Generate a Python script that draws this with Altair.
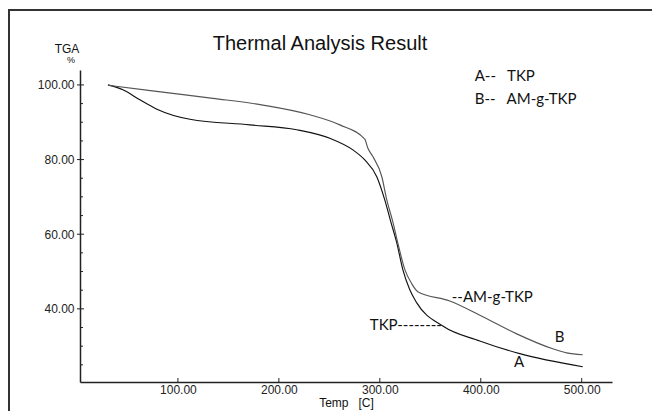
import altair as alt
import pandas as pd

# TGA curves (Temp [C], weight %)
tkp_temp = [30.7, 45.5, 62.4, 79.2, 111.9, 171.3, 217.8, 250.5, 273.3, 285.1, 297.0,
            304.9, 310.9, 316.8, 322.8, 329.7, 336.6, 362.4, 399.0, 438.6, 501.0]
tkp_tga = [100.0, 98.7, 96.0, 93.5, 90.8, 89.3, 88.0, 85.7, 82.6, 79.9, 75.4,
           69.2, 63.3, 57.7, 50.5, 45.1, 41.6, 35.4, 31.4, 28.0, 24.5]

am_temp = [30.7, 99.0, 134.7, 184.2, 230.7, 260.4, 285.1, 288.1, 293.1, 302.0, 306.9,
           312.9, 317.8, 324.8, 331.7, 337.6, 369.3, 402.0, 435.6, 471.3, 485.1, 501.0]
am_tga = [99.9, 97.6, 96.4, 94.6, 92.0, 89.3, 85.5, 83.1, 80.8, 75.4, 69.2,
          63.3, 57.7, 50.5, 46.7, 44.6, 42.1, 37.9, 33.3, 29.3, 28.2, 27.7]

x_ticks = [100, 200, 300, 400, 500]
y_ticks = [40, 60, 80, 100]
y_minor = [25, 30, 35, 45, 50, 55, 65, 70, 75, 85, 90, 95]

# annotation texts
left_text = ["A--\u00a0\u00a0\u00a0TKP", "B--\u00a0\u00a0\u00a0AM-g-TKP", "--AM-g-TKP",
             "TKP--------"]
center_text = ["B", "A"]

W, H = 532, 312
FONT = "Liberation Sans"
NOTE_FONT = "Lato"

xs = alt.Scale(domain=[3, 530], nice=False, zero=False)
ys = alt.Scale(domain=[20.4, 104], nice=False, zero=False)

curves = pd.concat([
    pd.DataFrame({"temp": tkp_temp, "tga": tkp_tga, "s": "TKP"}),
    pd.DataFrame({"temp": am_temp, "tga": am_tga, "s": "AM-g-TKP"}),
])

lines = alt.Chart(curves).mark_line(strokeWidth=1.15, interpolate="monotone").encode(
    x=alt.X("temp:Q", scale=xs,
            axis=alt.Axis(values=x_ticks, format=".2f", ticks=False, grid=False,
                          labelFont=FONT, labelFontSize=12, labelColor="#222",
                          labelPadding=2, domainColor="#222", domainWidth=1.5,
                          title="Temp\u00a0\u00a0\u00a0[C]", titleFont=FONT,
                          titleFontSize=12, titleFontWeight="normal",
                          titleColor="#111", titlePadding=2)),
    y=alt.Y("tga:Q", scale=ys,
            axis=alt.Axis(values=y_ticks, format=".2f", ticks=False, grid=False,
                          labelFont=FONT, labelFontSize=12, labelColor="#222",
                          labelPadding=6, domainColor="#222", domainWidth=1.5,
                          title=None)),
    color=alt.Color("s:N", scale=alt.Scale(domain=["TKP", "AM-g-TKP"],
                                           range=["#111111", "#555555"]), legend=None),
    detail="s:N",
)

# annotation placement (data coords), kept apart from data
left_pos = pd.DataFrame({"t": left_text,
                         "x": [394, 394, 371.3, 290.1],
                         "y": [101.15, 94.9, 41.9, 34.4]})
center_pos = pd.DataFrame({"t": center_text, "x": [478.2, 437.9], "y": [31.2, 24.5]})

notes_left = alt.Chart(left_pos).mark_text(
    font=NOTE_FONT, fontSize=15, align="left", baseline="alphabetic", color="#111"
).encode(x=alt.X("x:Q", scale=xs), y=alt.Y("y:Q", scale=ys), text="t:N")
notes_center = alt.Chart(center_pos).mark_text(
    font=NOTE_FONT, fontSize=15, align="center", baseline="alphabetic", color="#111"
).encode(x=alt.X("x:Q", scale=xs), y=alt.Y("y:Q", scale=ys), text="t:N")

# inward ticks
ymaj = alt.Chart(pd.DataFrame({"v": y_ticks})).mark_rule(color="#222", strokeWidth=1).encode(
    y=alt.Y("v:Q", scale=ys), x=alt.value(-3), x2=alt.value(4))
ymin = alt.Chart(pd.DataFrame({"v": y_minor})).mark_rule(color="#222", strokeWidth=1).encode(
    y=alt.Y("v:Q", scale=ys), x=alt.value(0), x2=alt.value(3))
xmaj = alt.Chart(pd.DataFrame({"v": x_ticks})).mark_rule(color="#222", strokeWidth=1).encode(
    x=alt.X("v:Q", scale=xs), y=alt.value(H - 4), y2=alt.value(H + 1))

one = pd.DataFrame({"a": [0]})
title = alt.Chart(one).mark_text(text="Thermal Analysis Result", font=FONT, fontSize=20,
                                 align="center", baseline="alphabetic", color="#111").encode(
    x=alt.value(240), y=alt.value(-20.5))
tga = alt.Chart(one).mark_text(text="TGA", font=FONT, fontSize=12, align="center",
                               baseline="alphabetic", color="#111").encode(
    x=alt.value(-13), y=alt.value(-17))
pct = alt.Chart(one).mark_text(text="%", font=FONT, fontSize=9, align="center",
                               baseline="alphabetic", color="#111").encode(
    x=alt.value(-9), y=alt.value(-7))

frame_top = alt.Chart(one).mark_rule(color="#333", strokeWidth=2).encode(
    x=alt.value(-72), x2=alt.value(600), y=alt.value(-60))
frame_left = alt.Chart(one).mark_rule(color="#333", strokeWidth=2).encode(
    x=alt.value(-71), y=alt.value(-60), y2=alt.value(360))

chart = alt.layer(
    frame_top, frame_left, ymin, ymaj, xmaj, lines, notes_left, notes_center,
    title, tga, pct
).properties(
    width=W, height=H,
    autosize=alt.AutoSizeParams(type="none"),
    padding={"left": 72, "top": 62, "right": 40, "bottom": 29},
).configure_view(stroke=None)

chart.save("out.html", embed_options={"renderer": "svg", "actions": False})
